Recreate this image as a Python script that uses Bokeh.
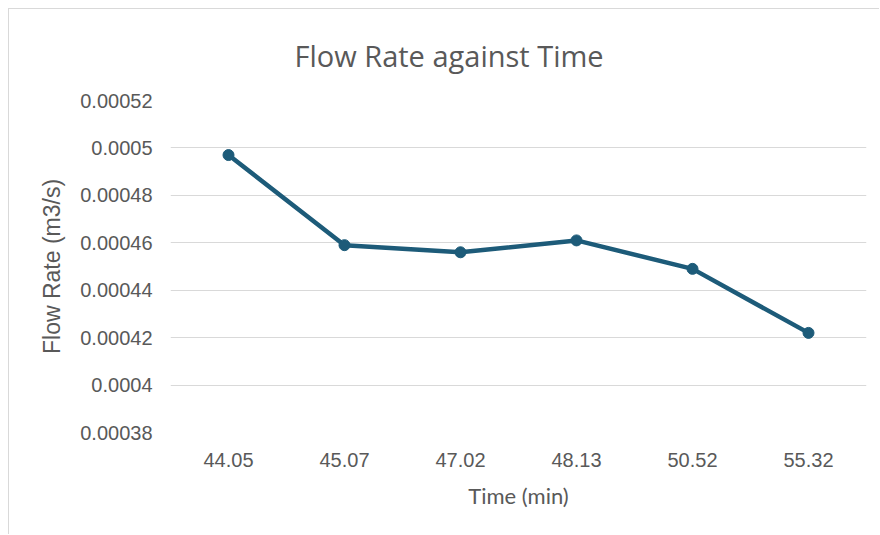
from bokeh.plotting import figure
from bokeh.models import ColumnDataSource, FactorRange, Range1d, FixedTicker, CustomJSTickFormatter
from bokeh.embed import file_html
from bokeh.resources import INLINE

times = ["44.05", "45.07", "47.02", "48.13", "50.52", "55.32"]
flow = [0.000497, 0.000459, 0.000456, 0.000461, 0.000449, 0.000422]
y_ticks = [0.00038, 0.0004, 0.00042, 0.00044, 0.00046, 0.00048, 0.0005, 0.00052]
y_tick_labels = ["0.00038", "0.0004", "0.00042", "0.00044", "0.00046", "0.00048", "0.0005", "0.00052"]

src = ColumnDataSource(data=dict(t=times, f=flow))

p = figure(width=871, height=526, output_backend="svg", toolbar_location=None,
           x_range=FactorRange(*times, range_padding=0),
           y_range=Range1d(0.00038, 0.00052),
           min_border_left=161, min_border_right=14, min_border_top=91, min_border_bottom=103)

p.title.text = "Flow Rate against Time"
p.title.align = "left"
p.title.offset = 124
p.title.standoff = 48
p.title.vertical_align = "top"
p.title.text_font = "Open Sans"
p.title.text_font_style = "normal"
p.title.text_font_size = "29px"
p.title.text_color = "#595959"

p.line("t", "f", source=src, line_color="#1d5b79", line_width=4.5)
p.scatter("t", "f", source=src, size=11, fill_color="#1d5b79", line_color="#1d5b79")

p.outline_line_color = None
p.background_fill_color = "white"
p.border_fill_color = "white"
p.styles = {"margin-left": "8px", "margin-top": "8px",
            "border-left": "1px solid #d9d9d9", "border-top": "1px solid #d9d9d9"}

p.xgrid.grid_line_color = None
p.ygrid.grid_line_color = "#d9d9d9"
p.ygrid.grid_line_width = 1

p.yaxis.ticker = FixedTicker(ticks=y_ticks)
p.yaxis.formatter = CustomJSTickFormatter(args=dict(tvals=y_ticks, tlabels=y_tick_labels), code="""
let best = 0; let bd = 1e9;
for (let i = 0; i < tvals.length; i++) { const d = Math.abs(tvals[i] - tick); if (d < bd) { bd = d; best = i; } }
return tlabels[best];
""")

for ax in (p.xaxis, p.yaxis):
    ax.axis_line_color = None
    ax.major_tick_line_color = None
    ax.minor_tick_line_color = None
    ax.major_label_text_font = "Liberation Sans"
    ax.major_label_text_font_size = "20px"
    ax.major_label_text_color = "#595959"
    ax.axis_label_text_font = "Liberation Sans"
    ax.axis_label_text_font_size = "23px"
    ax.axis_label_text_font_style = "normal"
    ax.axis_label_text_color = "#595959"

p.xaxis.axis_label = "Time (min)"
p.yaxis.axis_label = "Flow Rate (m3/s)"
p.xaxis.major_label_standoff = 14
p.yaxis.major_label_standoff = 12
p.xaxis.axis_label_standoff = 12
p.yaxis.axis_label_standoff = 12
p.xaxis.axis_label_text_font = "Lato"
p.xaxis.axis_label_text_font_size = "22px"

open("out.html", "w").write(file_html(p, INLINE))
